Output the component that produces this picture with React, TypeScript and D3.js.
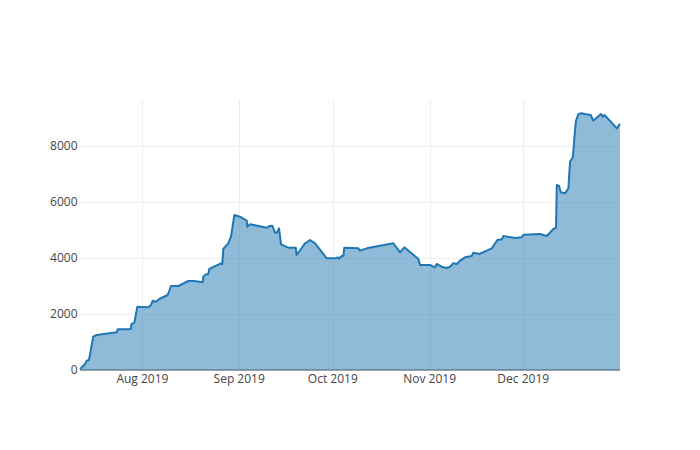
import React from "react";
import * as d3 from "d3";

const dates: string[] = [
  "2019-07-12 00:00", "2019-07-13 14:00", "2019-07-14 04:00", "2019-07-14 21:00", "2019-07-16 06:00",
  "2019-07-17 08:00", "2019-07-23 18:00", "2019-07-24 02:00", "2019-07-27 12:00", "2019-07-28 08:00",
  "2019-07-28 10:00", "2019-07-29 10:00", "2019-07-30 09:00", "2019-08-02 21:00", "2019-08-03 18:00",
  "2019-08-04 07:00", "2019-08-05 08:00", "2019-08-06 10:00", "2019-08-09 02:00", "2019-08-10 04:00",
  "2019-08-12 12:00", "2019-08-15 17:00", "2019-08-17 13:00", "2019-08-20 07:00", "2019-08-20 12:00",
  "2019-08-21 09:00", "2019-08-22 02:00", "2019-08-22 10:00", "2019-08-26 04:00", "2019-08-26 14:00",
  "2019-08-26 22:00", "2019-08-28 12:00", "2019-08-29 09:00", "2019-08-30 11:00", "2019-09-01 06:00",
  "2019-09-03 10:00", "2019-09-03 14:00", "2019-09-04 11:00", "2019-09-09 20:00", "2019-09-10 21:00",
  "2019-09-11 14:00", "2019-09-12 12:00", "2019-09-13 05:00", "2019-09-13 18:00", "2019-09-14 10:00",
  "2019-09-16 18:00", "2019-09-19 03:00", "2019-09-19 10:00", "2019-09-22 02:00", "2019-09-22 15:00",
  "2019-09-23 17:00", "2019-09-25 07:00", "2019-09-29 01:00", "2019-10-01 17:00", "2019-10-02 14:00",
  "2019-10-03 00:00", "2019-10-03 20:00", "2019-10-04 09:00", "2019-10-04 16:00", "2019-10-09 04:00",
  "2019-10-09 17:00", "2019-10-11 21:00", "2019-10-20 09:00", "2019-10-22 13:00", "2019-10-23 22:00",
  "2019-10-28 10:00", "2019-10-28 23:00", "2019-11-01 03:00", "2019-11-02 18:00", "2019-11-03 07:00",
  "2019-11-04 21:00", "2019-11-06 12:00", "2019-11-07 13:00", "2019-11-08 15:00", "2019-11-09 17:00",
  "2019-11-10 18:00", "2019-11-12 09:00", "2019-11-14 12:00", "2019-11-15 00:00", "2019-11-16 23:00",
  "2019-11-20 22:00", "2019-11-22 17:00", "2019-11-24 03:00", "2019-11-24 15:00", "2019-11-28 09:00",
  "2019-11-30 13:00", "2019-12-01 01:00", "2019-12-06 09:00", "2019-12-08 13:00", "2019-12-10 16:00",
  "2019-12-11 12:00", "2019-12-11 18:00", "2019-12-12 12:00", "2019-12-13 00:00", "2019-12-14 10:00",
  "2019-12-15 11:00", "2019-12-16 00:00", "2019-12-16 21:00", "2019-12-17 20:00", "2019-12-18 16:00",
  "2019-12-19 18:00", "2019-12-21 01:00", "2019-12-22 15:00", "2019-12-23 11:00", "2019-12-25 22:00",
  "2019-12-26 12:00", "2019-12-27 00:00", "2019-12-29 01:00", "2019-12-30 23:00", "2019-12-31 17:00",
  "2020-01-01 00:00",
];

const values: number[] = [
  30, 214, 333, 357, 1190,
  1250, 1345, 1452, 1452, 1476,
  1630, 1690, 2262, 2238, 2321,
  2476, 2440, 2536, 2678, 3000,
  3000, 3178, 3178, 3131, 3333,
  3417, 3417, 3607, 3810, 3786,
  4321, 4524, 4762, 5536, 5476,
  5333, 5119, 5202, 5083, 5143,
  5155, 4905, 4917, 5060, 4488,
  4369, 4369, 4107, 4524, 4560,
  4643, 4524, 3988, 3988, 4024,
  3976, 4071, 4071, 4369, 4345,
  4262, 4345, 4524, 4202, 4381,
  3964, 3750, 3750, 3667, 3786,
  3690, 3643, 3690, 3810, 3786,
  3905, 4024, 4071, 4190, 4143,
  4345, 4643, 4667, 4786, 4714,
  4738, 4833, 4857, 4786, 5036,
  5071, 6607, 6571, 6345, 6310,
  6488, 7440, 7595, 8869, 9143,
  9167, 9131, 9107, 8905, 9143,
  9048, 9107, 8869, 8631, 8750,
  8786,
];

const xTickDates: string[] = ["2019-08-01", "2019-09-01", "2019-10-01", "2019-11-01", "2019-12-01"];
const xTickLabels: string[] = ["Aug 2019", "Sep 2019", "Oct 2019", "Nov 2019", "Dec 2019"];
const yTicks: number[] = [0, 2000, 4000, 6000, 8000];

const W = 700;
const H = 450;
const M = { left: 80, right: 80, top: 100, bottom: 80 };

export default function App() {
  const parse = d3.timeParse("%Y-%m-%d %H:%M");
  const parseDay = d3.timeParse("%Y-%m-%d");
  const data = dates.map((d, i) => ({ t: parse(d) as Date, v: values[i] }));

  const x = d3
    .scaleTime()
    .domain([parseDay("2019-07-12") as Date, parseDay("2020-01-01") as Date])
    .range([M.left, W - M.right]);
  const y = d3.scaleLinear().domain([0, 9643]).range([H - M.bottom, M.top]);

  const area = d3
    .area<{ t: Date; v: number }>()
    .x((d) => x(d.t))
    .y0(y(0))
    .y1((d) => y(d.v));
  const line = d3
    .line<{ t: Date; v: number }>()
    .x((d) => x(d.t))
    .y((d) => y(d.v));

  const font = "'Open Sans', sans-serif";

  return (
    <svg
      width={W}
      height={H}
      style={{ position: "absolute", left: 0, top: 0, background: "#fff" }}
    >
      <rect x={0} y={0} width={W} height={H} fill="#fff" />
      {xTickDates.map((d, i) => {
        const xx = Math.round(x(parseDay(d) as Date)) + 0.5;
        return (
          <line key={"gx" + i} x1={xx} x2={xx} y1={M.top} y2={H - M.bottom} stroke="#eee" strokeWidth={1} />
        );
      })}
      {yTicks.slice(1).map((t, i) => {
        const yy = Math.round(y(t)) + 0.5;
        return (
          <line key={"gy" + i} x1={M.left} x2={W - M.right} y1={yy} y2={yy} stroke="#eee" strokeWidth={1} />
        );
      })}
      <line x1={M.left} x2={W - M.right} y1={y(0)} y2={y(0)} stroke="#444" strokeWidth={1} />
      <path d={area(data) || ""} fill="rgba(31,119,180,0.5)" stroke="none" />
      <path d={line(data) || ""} fill="none" stroke="#1f77b4" strokeWidth={2} strokeLinejoin="round" />
      {xTickDates.map((d, i) => (
        <text
          key={"xl" + i}
          x={x(parseDay(d) as Date)}
          y={H - M.bottom + 4}
          dy="0.71em"
          textAnchor="middle"
          fontFamily={font}
          fontSize={12}
          fill="#444"
        >
          {xTickLabels[i]}
        </text>
      ))}
      {yTicks.map((t, i) => (
        <text
          key={"yl" + i}
          x={M.left - 2.5}
          y={y(t)}
          dy="0.35em"
          textAnchor="end"
          fontFamily={font}
          fontSize={12}
          fill="#444"
        >
          {t}
        </text>
      ))}
    </svg>
  );
}
